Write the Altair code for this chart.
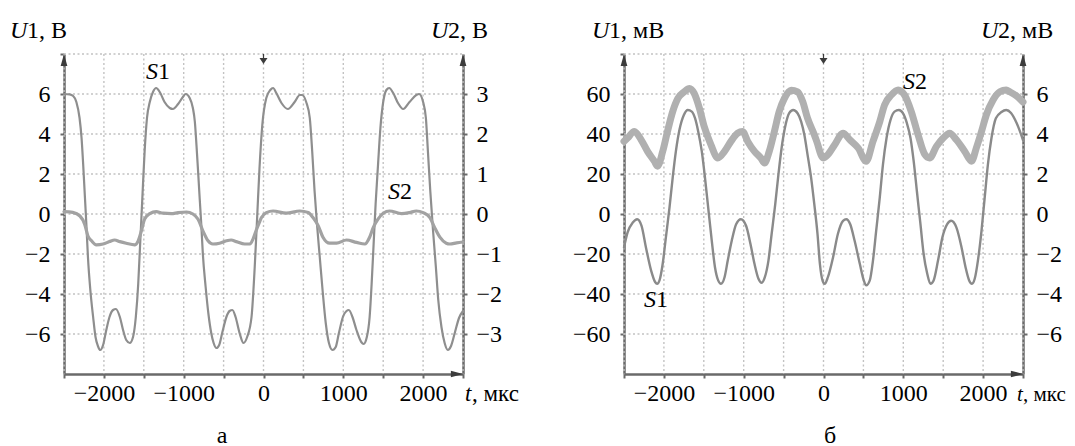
import altair as alt
import pandas as pd

FONT = "'Liberation Serif', 'Times New Roman', Times, serif"
AXC = "#6a6a6a"
GRIDC = "#c2c2c2"
FS = 24

# ---------------- panel а (volts) ----------------
A_S1_T = [-2500, -2430, -2385, -2345, -2305, -2280, -2260, -2240, -2220, -2200, -2170, -2135, -2105, -2075,
          -2045, -2010, -1970, -1930, -1885, -1850, -1800, -1760, -1720, -1675, -1635, -1600, -1570, -1550,
          -1530, -1510, -1490, -1460, -1425, -1385, -1345, -1300, -1240, -1175, -1135, -1070, -1010, -975,
          -925, -885, -860, -840, -820, -800, -780, -760, -725, -690, -655, -625, -590, -555, -515, -465,
          -425, -390, -350, -300, -250, -205, -150, -110, -80, -50, -15, 35, 85, 120, 160, 225, 305, 390,
          455, 485, 535, 580, 610, 640, 670, 705, 740, 780, 820, 865, 905, 945, 995, 1040, 1070, 1115, 1165,
          1225, 1255, 1295, 1330, 1355, 1380, 1405, 1435, 1465, 1500, 1540, 1575, 1625, 1685, 1750, 1830,
          1915, 1950, 2000, 2035, 2060, 2090, 2125, 2160, 2190, 2230, 2270, 2310, 2350, 2400, 2450, 2500]
A_S1_U = [6.0, 5.98, 5.9, 5.6, 4.8, 3.8, 2.5, 1.0, -0.5, -2.15, -3.8, -5.15, -6.15, -6.6,
          -6.8, -6.55, -5.8, -5.15, -4.8, -4.75, -5.15, -5.8, -6.3, -6.45, -6.15, -5.15, -3.5, -1.85,
          -0.2, 1.5, 3.1, 4.8, 5.6, 6.1, 6.3, 6.1, 5.6, 5.3, 5.25, 5.5, 5.85, 6.0,
          5.8, 5.3, 4.6, 3.45, 2.15, 0.8, -0.5, -2.0, -3.65, -5.0, -5.95, -6.45, -6.7, -6.55, -5.9, -5.15,
          -4.85, -4.8, -5.15, -5.95, -6.45, -6.15, -5.15, -2.65, -0.2, 2.3, 4.45, 5.8, 6.2, 6.3, 6.05, 5.55, 5.25, 5.6,
          5.95, 5.95, 5.6, 4.8, 3.15, 1.15, -0.5, -2.15, -3.8, -5.45, -6.45, -6.8, -6.65, -5.95, -5.15, -4.85, -4.8, -5.15, -5.8,
          -6.4, -6.5, -6.15, -5.15, -3.5, -1.5, 0.5, 2.45, 4.3, 5.6, 6.2, 6.3, 6.05, 5.55, 5.25, 5.6,
          5.95, 6.0, 5.6, 4.8, 3.15, 1.15, -0.85, -2.65, -4.3, -5.65, -6.45, -6.8, -6.6, -5.9, -5.2, -4.85]

A_S2_T = [-2500, -2390, -2300, -2240, -2200, -2155, -2095, -2010, -1930, -1865, -1800, -1720, -1615, -1570,
          -1530, -1490, -1425, -1345, -1260, -1155, -1070, -965, -885, -820, -760, -695, -635, -550, -465,
          -405, -340, -235, -170, -130, -90, -50, -25, 35, 120, 285, 455, 560, 620, 685, 745, 830, 915, 1040,
          1165, 1270, 1330, 1375, 1435, 1500, 1580, 1730, 1830, 1915, 2000, 2085, 2145, 2210, 2290, 2335,
          2420, 2500]
A_S2_U = [0.06, 0.04, -0.05, -0.26, -0.55, -0.67, -0.77, -0.75, -0.69, -0.65, -0.69, -0.73, -0.77, -0.67,
          -0.42, -0.13, 0.01, 0.06, 0.02, 0.01, 0.035, 0.05, 0.0, -0.13, -0.42, -0.67, -0.75, -0.73, -0.67,
          -0.65, -0.69, -0.75, -0.75, -0.62, -0.4, -0.2, -0.09, 0.035, 0.075, 0.02, 0.075, 0.035, -0.09, -0.29, -0.58, -0.73, -0.73, -0.65,
          -0.71, -0.75, -0.58, -0.34, -0.13, 0.02, 0.075, 0.01, 0.035, 0.075, 0.035, -0.09, -0.34, -0.58, -0.73, -0.75,
          -0.72, -0.7]

# ---------------- panel б (millivolts) ----------------
B_S1_T = [-2500, -2455, -2390, -2335, -2280, -2225, -2160, -2110, -2085, -2055, -2015, -1975, -1930, -1890,
          -1850, -1805, -1750, -1700, -1650, -1610, -1570, -1525, -1485, -1445, -1400, -1360, -1320, -1285,
          -1240, -1200, -1150, -1095, -1035, -970, -915, -865, -815, -775, -735, -690, -650, -605, -565, -525,
          -480, -430, -380, -325, -280, -240, -200, -155, -115, -75, -45, -10, 15, 55, 120, 180, 245, 285, 335,
          390, 455, 505, 535, 580, 620, 660, 705, 745, 790, 840, 890, 945, 995, 1045, 1090, 1130, 1170, 1215,
          1255, 1300, 1340, 1380, 1435, 1490, 1550, 1600, 1665, 1730, 1780, 1825, 1860, 1895, 1935, 1980,
          2020, 2060, 2105, 2160, 2230, 2290, 2350, 2420, 2500]
B_S1_U = [-16.7, -9.2, -4.3, -2.6, -5.9, -16.7, -28.3, -34.0, -34.9, -33.2, -24.9, -11.7, 3.2, 18.1,
          31.3, 42.1, 49.5, 52.0, 51.2, 47.9, 41.3, 31.3, 18.1, 3.2, -13.4, -26.6, -33.2, -34.9,
          -31.6, -23.3, -13.4, -5.1, -2.6, -5.9, -15.0, -24.9, -32.4, -34.4, -31.6, -23.3, -10.0, 4.8, 19.7, 33.0,
          43.7, 50.4, 52.0, 50.4, 46.2, 39.6, 29.7, 18.1, 4.8, -10.0, -25.0, -33.5, -34.9, -31.6, -21.6, -10.0, -3.4, -2.6, -5.1,
          -13.4, -24.9, -33.2, -35.7, -33.2, -23.3, -8.4, 8.2, 24.7, 38.0, 47.1, 51.2, 52.0, 50.4, 45.4, 38.0, 26.4, 11.5, -5.1,
          -20.0, -29.9, -34.9, -33.2, -23.3, -11.7, -5.1, -3.4, -6.7, -16.7, -26.6, -33.2, -34.9, -32.4, -23.3, -8.4,
          8.2, 24.7, 38.0, 47.9, 51.0, 52.0, 50.5, 45.5, 37.0]

B_S2_T = [-2500, -2455, -2370, -2285, -2205, -2120, -2080, -2015, -1955, -1890, -1825, -1745, -1680, -1620,
          -1555, -1495, -1410, -1325, -1240, -1160, -1075, -1015, -950, -865, -785, -740, -680, -615, -555,
          -490, -405, -325, -260, -200, -115, -85, -5, 55, 140, 245, 330, 435, 535, 620, 705, 765, 850, 935,
          1015, 1100, 1185, 1270, 1330, 1415, 1500, 1580, 1665, 1770, 1855, 1915, 1980, 2040, 2125, 2210,
          2290, 2335, 2420, 2500]
B_S2_U = [3.63, 3.8, 4.13, 3.71, 3.13, 2.64, 2.39, 3.13, 4.13, 5.12, 5.78, 6.11, 6.28, 6.03,
          5.29, 4.37, 3.46, 2.8, 3.13, 3.63, 4.04, 4.13, 3.63, 3.13, 2.8, 2.55, 3.13, 4.13, 5.12,
          5.78, 6.19, 6.11, 5.62, 4.79, 3.96, 3.63, 2.8, 2.97, 3.46, 4.04, 3.71, 3.3, 2.64, 3.63, 4.62, 5.45, 5.95, 6.2,
          5.95, 5.12, 3.96, 2.97, 2.8, 3.38, 3.8, 4.04, 3.71, 3.13, 2.64, 3.3, 4.13, 4.95, 5.7, 6.11,
          6.2, 6.11, 5.9, 5.6]

X_TICKS = list(range(-2500, 2501, 500))
A_U1_TICKS = [-6, -4, -2, 0, 2, 4, 6, 8]
A_U2_TICKS = [-3, -2, -1, 0, 1, 2, 3]
B_U1_TICKS = [-60, -40, -20, 0, 20, 40, 60, 80]
B_U2_TICKS = [-6, -4, -2, 0, 2, 4, 6]

W, H = 399, 320
ONE = alt.Data(values=[{}])

MINUS = "replace(format(datum.value, 'd'), '-', '\u2212')"


def x_enc():
    return alt.X(
        "t:Q",
        scale=alt.Scale(domain=[-2500, 2500], nice=False, zero=False),
        axis=alt.Axis(
            values=X_TICKS,
            labelExpr="datum.value % 1000 == 0 ? " + MINUS + " : ''",
            grid=False,
            domainColor=AXC, domainWidth=2.5, tickColor=AXC, tickWidth=2, tickSize=4,
            labelFont=FONT, labelFontSize=FS, labelColor="black", labelPadding=3,
            labelFlush=False, labelOverlap=False, title=None,
        ),
    )


def text(x, y, s, italic=False, align="left", size=FS):
    return alt.Chart(ONE).mark_text(
        text=s, font=FONT, fontSize=size, fontStyle="italic" if italic else "normal",
        align=align, baseline="alphabetic", color="black",
    ).encode(x=alt.value(x), y=alt.value(y))


def sym(x, y, path, size):
    return alt.Chart(ONE).mark_point(
        shape=path, size=size, filled=True, color="#3c3c3c", opacity=1, strokeWidth=0,
    ).encode(x=alt.value(x), y=alt.value(y))


UP = "M-0.55,1L0,-1L0.55,1Z"
RIGHT = "M-1,-0.55L1,0L-1,0.55Z"
DOWN = "M-0.12,-1L0.12,-1L0.12,-0.2L0.8,-0.2L0,1L-0.8,-0.2L-0.12,-0.2Z"


def panel(s1t, s1u, s2t, s2u, u1dom, u1ticks, u2dom, u2ticks, s1c, s1w, s2c, s2w,
          annots):
    top1 = u1ticks[-1]
    df1 = pd.DataFrame({"t": s1t, "u": s1u})
    df2 = pd.DataFrame({"t": s2t, "u": s2u})
    grid_v = alt.Chart(pd.DataFrame({"t": X_TICKS})).mark_rule(
        color=GRIDC, strokeDash=[2, 2.5], strokeWidth=1.4
    ).encode(x=x_enc(), y=alt.value(0), y2=alt.value(H))
    grid_h = alt.Chart(pd.DataFrame({"g": u1ticks})).mark_rule(
        color=GRIDC, strokeDash=[2, 2.5], strokeWidth=1.4
    ).encode(
        y=alt.Y("g:Q", scale=alt.Scale(domain=u1dom, nice=False, zero=False), axis=None),
        x=alt.value(0), x2=alt.value(W),
    )
    s1 = alt.Chart(df1).mark_line(
        interpolate="monotone", color=s1c, strokeWidth=s1w, strokeJoin="round", strokeCap="round"
    ).encode(
        x=x_enc(),
        y=alt.Y("u:Q", scale=alt.Scale(domain=u1dom, nice=False, zero=False),
                axis=alt.Axis(
                    orient="left", values=u1ticks,
                    labelExpr="datum.value == " + str(top1) + " ? '' : " + MINUS,
                    grid=False,
                    domainColor=AXC, domainWidth=2.5, tickColor=AXC, tickWidth=2, tickSize=4,
                    labelFont=FONT, labelFontSize=FS, labelColor="black", labelPadding=10,
                    labelOverlap=False, labelFlush=False, title=None,
                )),
    )
    s2 = alt.Chart(df2).mark_line(
        interpolate="monotone", color=s2c, strokeWidth=s2w, strokeJoin="round", strokeCap="round"
    ).encode(
        x=x_enc(),
        y=alt.Y("u:Q", scale=alt.Scale(domain=u2dom, nice=False, zero=False),
                axis=alt.Axis(
                    orient="right", values=u2ticks, labelExpr=MINUS, grid=False,
                    domainColor=AXC, domainWidth=2.5, tickColor=AXC, tickWidth=2, tickSize=4,
                    labelFont=FONT, labelFontSize=FS, labelColor="black", labelPadding=9,
                    labelOverlap=False, labelFlush=False, title=None,
                )),
    )
    deco = [
        sym(0, 6, UP, 150),
        sym(W, 6, UP, 150),
        sym(W - 6, H, RIGHT, 150),
        sym(W / 2, 5, DOWN, 100),
    ]
    return alt.layer(grid_v, grid_h, s1, s2, *deco, *annots).resolve_scale(y="independent").properties(
        width=W, height=H)


annots_a = [
    text(-54, -16, "U", True), text(-37, -16, "1, \u0412"),
    text(367, -16, "U", True), text(384, -16, "2, \u0412"),
    text(82, 25, "S", True), text(94, 25, "1"),
    text(324, 145, "S", True), text(336, 145, "2"),
    text(401, 347, "t", True, size=23), text(408, 347, ", \u043c\u043a\u0441", size=23),
    text(158, 389, "\u0430", align="center"),
]
annots_b = [
    text(-32, -16, "U", True), text(-15, -16, "1, \u043c\u0412"),
    text(357, -16, "U", True), text(374, -16, "2, \u043c\u0412"),
    text(279, 35, "S", True), text(291, 35, "2"),
    text(20, 253, "S", True), text(32, 253, "1"),
    text(393, 347, "t", True, size=21), text(399, 347, ", \u043c\u043a\u0441", size=21),
    text(206, 389, "\u0431", align="center"),
]

pa = panel(A_S1_T, A_S1_U, A_S2_T, A_S2_U, [-8, 8], A_U1_TICKS, [-4, 4], A_U2_TICKS,
           "#8e8e8e", 2.2, "#a2a2a2", 3.2, annots_a)
pb = panel(B_S1_T, B_S1_U, B_S2_T, B_S2_U, [-80, 80], B_U1_TICKS, [-8, 8], B_U2_TICKS,
           "#8a8a8a", 2.4, "#b0b0b0", 7, annots_b)

chart = alt.hconcat(pa, pb, spacing=161, bounds="flush").properties(
    padding={"left": 2, "top": 11, "right": 0, "bottom": 0}
).configure_view(stroke=None)

chart.save("out.html", embed_options={"renderer": "svg", "actions": False})
